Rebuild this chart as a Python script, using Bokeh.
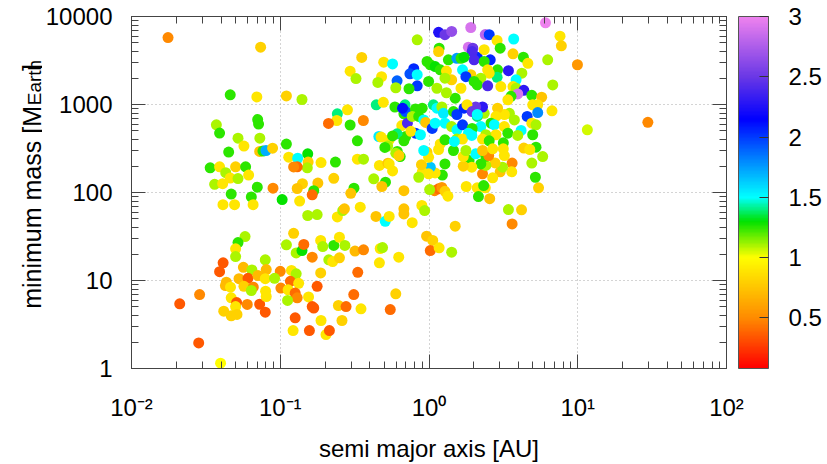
import math
from bokeh.plotting import figure
from bokeh.layouts import row
from bokeh.core.properties import value
from bokeh.models import (ColumnDataSource, LinearColorMapper, ColorBar, FixedTicker,
                          CustomJSTickFormatter, LogAxis, Range1d)
from bokeh.embed import file_html
from bokeh.resources import INLINE

# ---- data ----
semi_major_axis = [
    # short-period / left region
    0.0176, 0.0738, 0.0461, 0.0696, 0.110, 0.140, 0.0705, 0.0715, 0.0372, 0.0391,
    0.052, 0.0729, 0.057, 0.0450, 0.0727, 0.0765, 0.0802, 0.0888, 0.0338, 0.0391,
    0.0501, 0.0585, 0.0430, 0.0461, 0.052, 0.0613, 0.0362, 0.041, 0.0701, 0.0894,
    0.0468, 0.0639, 0.0412, 0.0493, 0.0657, 0.103,
    # left low-mass region
    0.058, 0.052, 0.0501, 0.0501, 0.0413, 0.0391, 0.0565, 0.0645, 0.0793, 0.0805,
    0.100, 0.0434, 0.0428, 0.0463, 0.0528, 0.0607, 0.0708, 0.0793, 0.0916, 0.057,
    0.0659, 0.0639, 0.101, 0.0287, 0.0211, 0.0468, 0.0509, 0.0501, 0.060, 0.0727,
    0.0797, 0.0805, 0.0793, 0.0417, 0.0468, 0.0512, 0.0283, 0.0397,
    # middle upper region
    0.353, 0.295, 0.323, 0.496, 0.569, 0.480, 0.453, 0.61, 0.598, 0.79,
    0.744, 0.833, 0.833, 0.734, 0.833, 0.283, 0.242, 0.240, 0.211, 0.295,
    0.362, 0.442, 0.493, 0.590, 0.69, 0.678, 0.656, 0.716, 0.697, 0.61,
    0.46, 0.476, 0.54, 0.527, 0.505, 0.612, 0.598, 0.64, 0.110, 0.114,
    0.131, 0.153, 0.154, 0.152, 0.130, 0.123, 0.188, 0.235, 0.33, 0.33,
    0.363, 0.464, 0.53, 0.569, 0.425, 0.51, 0.482, 0.678, 0.229, 0.179,
    0.141, 0.130, 0.168, 0.164, 0.313, 0.298, 0.135,
    # middle lower region
    0.153, 0.177, 0.242, 0.263, 0.27, 0.345, 0.44, 0.508, 0.54, 0.678,
    0.678, 0.771, 0.123, 0.110, 0.128, 0.140, 0.144, 0.164, 0.187, 0.193,
    0.229, 0.25, 0.272, 0.212, 0.225, 0.25, 0.318, 0.363, 0.47, 0.487,
    0.464, 0.626, 0.332, 0.187, 0.119, 0.128, 0.117, 0.133, 0.113, 0.126,
    0.130, 0.112, 0.155, 0.177, 0.164, 0.168, 0.126, 0.122, 0.157, 0.188,
    0.203, 0.214, 0.246, 0.26, 0.277, 0.312, 0.349, 0.549, 0.598,
    # giant-planet cluster, upper
    1.16, 1.28, 1.42, 1.91, 2.39, 2.54, 2.87, 3.71, 6.07, 7.6,
    7.76, 9.95, 1.17, 1.16, 1.84, 1.97, 2.11, 2.58, 2.35, 3.01,
    3.67, 4.31, 4.62, 6.28, 1.95, 2.01, 2.35, 2.89, 3.42, 4.21,
    3.85, 2.87, 2.48, 2.54, 2.23, 1.91, 2.11, 2.48, 3.04, 3.67,
    3.85, 4.34, 3.95, 4.91, 5.72, 6.79, 3.56, 3.39, 4.98, 5.38,
    4.57, 5.38, 6.71, 4.91, 5.24, 4.16, 4.98, 3.47, 3.21, 3.75,
    2.89, 2.82, 2.61, 2.35, 2.29, 2.06, 2.11, 2.23, 2.75, 3.21,
    3.39, 2.82, 2.41, 1.95, 0.97, 1.02, 1.10, 1.19, 1.35, 1.54,
    1.64, 1.72, 1.31, 1.42, 1.28, 1.68, 1.77, 2.01, 0.994, 1.13,
    1.64, 1.50, 1.31, 1.07, 1.13, 1.22, 1.25, 1.46, 1.54, 1.72,
    1.80, 1.95, 2.11, 0.697, 0.664, 0.811, 0.90, 0.771, 0.853, 0.922,
    0.95, 0.811, 0.755, 0.876, 1.05, 1.10, 1.28, 1.42, 1.54, 1.68,
    1.95, 1.84,
    # giant-planet cluster, lower
    0.678, 0.569, 0.628, 0.54, 1.16, 1.19, 1.28, 1.54, 1.68, 1.94,
    2.29, 2.54, 3.16, 3.95, 1.46, 1.48, 1.28, 1.23, 1.10, 1.02,
    0.994, 0.90, 0.853, 0.89, 0.97, 0.994, 0.922, 1.09, 1.16, 1.22,
    1.28, 1.34, 1.01, 1.78, 2.11, 2.39, 2.33, 2.15, 2.56, 5.45,
    5.19, 4.91, 5.81, 5.24, 4.34, 4.76, 3.62, 3.60, 3.01, 3.12,
    2.78, 2.68, 2.29, 2.41, 2.23, 1.86, 1.94, 1.70, 1.70, 2.06,
    2.41, 2.52, 2.29, 2.68, 3.16, 3.21, 1.77,
    # lower and outer points
    0.895, 0.935, 0.963, 1.06, 1.02, 1.17, 1.42, 1.50, 3.42, 4.19,
    3.62, 11.6, 29.6,
]

min_mass = [
    5770, 4480, 1290, 1220, 1250, 1140, 675, 600, 588, 473,
    414, 414, 337, 288, 293, 296, 300, 319, 191, 196,
    196, 196, 168, 146, 144, 158, 124, 126, 115, 112,
    96, 89, 72.7, 72.7, 72.7, 83,
    31.6, 27.0, 22.9, 18.7, 15.9, 12.6, 14.1, 13.2, 17.2, 13.3,
    12.7, 9.57, 8.76, 8.4, 10.5, 10.6, 11.4, 10.5, 10.6, 8.6,
    8.4, 7.7, 8.2, 6.93, 5.44, 6.36, 5.62, 5.06, 5.34, 5.37,
    7.56, 6.58, 4.36, 4.48, 3.97, 4.11, 1.95, 1.15,
    3430, 2390, 1970, 3030, 2890, 2070, 1780, 1860, 1550, 2550,
    2230, 1630, 2180, 1510, 5430, 871, 783, 658, 610, 585,
    658, 993, 1060, 937, 993, 783, 577, 613, 433, 464,
    433, 426, 397, 337, 325, 293, 280, 256, 355, 252,
    245, 275, 222, 191, 196, 195, 219, 222, 387, 239,
    239, 203, 215, 176, 143, 131, 117, 105, 145, 128,
    126, 111, 105, 94, 112, 98, 80,
    54.8, 56.1, 52.7, 62.4, 65.3, 68.1, 53.5, 47.1, 53.5, 65.3,
    57, 45.4, 34.4, 25.4, 20.6, 21.9, 25.7, 18.4, 28.5, 24.3,
    25, 31, 25, 17.2, 16.4, 18.1, 21.6, 22.3, 23.1, 23.7,
    15.9, 18.4, 12.4, 12.2, 13, 11.9, 9.8, 9.3, 7.84, 7.2,
    6.36, 5.93, 6.5, 8.6, 5.06, 4.87, 3.77, 2.7, 2.7, 3.51,
    2.43, 2.7, 5.2, 3.51, 5.06, 6.93, 4.77, 4.67, 7.06,
    6620, 6210, 6760, 7500, 6240, 6210, 5340, 5550, 8470, 5970,
    4650, 2830, 4360, 4000, 4480, 4360, 3450, 3220, 4200, 4360,
    3770, 3450, 2940, 3220, 4000, 3220, 3080, 2480, 2420, 2270,
    1910, 2040, 2480, 2270, 1990, 2180, 1670, 1630, 1600, 1600,
    1530, 1450, 1320, 1270, 1210, 1670, 1240, 1130, 993, 993,
    731, 810, 848, 613, 588, 507, 453, 795, 770, 667,
    908, 731, 613, 795, 937, 937, 731, 562, 588, 562,
    472, 453, 453, 516, 3080, 2830, 2700, 2480, 3220, 3350,
    3350, 3450, 2400, 1910, 1990, 2480, 2070, 1830, 1830, 1530,
    1530, 1180, 1360, 993, 908, 937, 795, 830, 770, 908,
    993, 830, 770, 830, 908, 890, 908, 731, 731, 667,
    625, 472, 495, 453, 535, 613, 613, 562, 516, 588,
    535, 472,
    387, 440, 263, 211, 308, 356, 397, 405, 405, 445,
    405, 387, 367, 445, 300, 380, 211, 158, 167, 194,
    163, 170, 149, 207, 287, 251, 300, 105, 110, 114,
    103, 90.8, 108, 117, 113, 113, 120, 90, 85, 113,
    149, 216, 256, 327, 320, 308, 216, 172, 172, 194,
    217, 147, 163, 203, 211, 231, 194, 199, 256, 275,
    258, 263, 300, 314, 314, 263, 300,
    71.3, 62.4, 31.9, 28.5, 21.9, 23.5, 21, 41.4, 64, 63.6,
    44, 516, 627,
]

stellar_mass = [
    0.5, 0.8, 1.25, 0.9, 0.8, 1.1, 1.25, 1.25, 1.1, 1.25,
    1.1, 1.1, 0.9, 1.25, 0.75, 1.25, 1.7, 0.8, 1.25, 0.9,
    0.8, 1.25, 1.1, 0.9, 1.1, 0.9, 1.1, 0.9, 1.25, 0.5,
    1.25, 1.25, 0.9, 0.9, 0.9, 1.3,
    1.1, 1.25, 0.9, 1.1, 0.35, 0.35, 0.7, 1.1, 1.1, 0.7,
    0.5, 0.7, 0.7, 0.9, 0.7, 0.35, 0.7, 0.9, 1.1, 0.8,
    0.5, 1.1, 0.5, 0.5, 0.35, 0.9, 0.35, 0.9, 0.5, 0.35,
    0.9, 0.9, 0.35, 0.8, 0.8, 0.8, 0.35, 1.0,
    0.8, 0.9, 1.1, 0.9, 1.5, 0.9, 1.1, 1.9, 1.1, 2.05,
    1.95, 2.0, 1.5, 1.25, 1.1, 0.9, 1.4, 0.9, 0.4, 1.25,
    0.5, 1.4, 0.9, 1.25, 1.4, 1.25, 0.9, 2.4, 1.25, 1.4,
    1.55, 0.9, 0.9, 1.1, 1.25, 1.25, 1.1, 1.25, 1.25, 0.9,
    1.5, 1.3, 0.8, 1.1, 0.4, 0.5, 0.9, 1.25, 1.25, 0.9,
    1.1, 0.9, 0.75, 0.9, 1.1, 1.25, 0.75, 0.75, 0.8, 0.75,
    0.8, 0.75, 1.25, 0.4, 1.25, 0.75, 0.9,
    1.1, 1.1, 0.9, 1.1, 0.75, 0.9, 0.75, 1.5, 0.9, 0.75,
    0.75, 0.9, 0.8, 1.1, 1.1, 1.3, 0.4, 0.5, 0.9, 1.1,
    1.25, 0.9, 1.1, 1.1, 0.9, 0.8, 0.7, 0.5, 0.9, 1.1,
    0.9, 0.9, 0.4, 0.8, 0.9, 1.1, 0.4, 0.9, 0.9, 0.4,
    0.5, 1.1, 0.9, 0.35, 0.35, 0.35, 0.35, 0.9, 0.35, 0.9,
    0.9, 0.35, 0.8, 0.8, 0.4, 0.4, 0.9, 0.4, 0.8,
    2.25, 2.5, 2.65, 2.9, 2.8, 2.0, 0.9, 1.5, 3.0, 0.9,
    0.8, 0.55, 1.25, 0.8, 2.9, 2.5, 2.05, 2.05, 0.9, 1.25,
    0.8, 1.25, 0.9, 1.1, 2.4, 2.4, 1.25, 1.25, 2.3, 1.1,
    1.5, 1.4, 0.9, 0.9, 1.1, 0.8, 1.25, 2.4, 0.9, 0.9,
    1.1, 2.3, 2.9, 1.25, 0.75, 1.1, 1.25, 0.9, 0.9, 0.9,
    2.0, 1.8, 0.9, 0.9, 1.1, 1.5, 1.25, 1.1, 0.9, 1.1,
    0.8, 0.9, 1.25, 1.1, 2.3, 2.5, 1.4, 1.5, 1.5, 0.9,
    1.25, 0.9, 1.1, 1.5, 1.25, 1.25, 1.3, 1.25, 1.25, 1.75,
    1.25, 1.3, 0.9, 0.8, 1.1, 1.5, 2.0, 1.25, 1.25, 1.1,
    0.9, 1.25, 1.1, 1.4, 1.5, 1.1, 1.55, 1.25, 2.0, 2.05,
    0.9, 2.5, 1.5, 1.95, 2.1, 1.25, 1.25, 1.1, 1.25, 1.5,
    0.75, 2.0, 0.9, 1.5, 2.0, 1.5, 1.5, 1.1, 1.5, 2.0,
    1.25, 1.5,
    1.25, 1.25, 0.8, 0.9, 0.9, 0.9, 1.25, 1.1, 0.9, 1.5,
    0.9, 1.25, 1.25, 1.1, 1.25, 1.5, 1.25, 1.25, 0.9, 1.65,
    0.9, 0.9, 1.1, 0.8, 0.8, 0.9, 1.5, 0.5, 0.4, 0.55,
    0.8, 0.9, 1.1, 0.9, 0.9, 0.9, 1.25, 1.25, 0.75, 0.8,
    1.25, 1.1, 1.1, 1.25, 0.8, 0.9, 0.5, 0.9, 0.75, 1.1,
    0.8, 0.9, 0.5, 1.1, 1.25, 1.25, 0.9, 0.8, 0.9, 1.5,
    1.25, 0.5, 0.75, 0.9, 0.9, 0.9, 1.1,
    0.9, 1.1, 0.75, 0.8, 0.4, 0.9, 1.1, 0.8, 1.1, 0.8,
    0.5, 1.05, 0.5,
]

x_ticks = [0.01, 0.1, 1, 10, 100]
y_ticks = [1, 10, 100, 1000, 10000]
cb_ticks = [0.5, 1, 1.5, 2, 2.5, 3]
cb_low, cb_high = 0.08, 3.0

x_title = "semi major axis [AU]"
y_title_main, y_title_sub, y_title_end = "minimum mass [M", "Earth", "]"

# ---- palette (red - orange - yellow - green - cyan - blue - purple - violet) ----
stops = [(0.08, (255, 0, 0)), (0.5, (255, 140, 0)), (1.0, (255, 255, 0)),
         (1.3, (0, 225, 0)), (1.5, (0, 255, 255)), (2.15, (0, 0, 255)),
         (2.5, (105, 55, 230)), (3.0, (238, 130, 238))]


def make_palette(n=256):
    cols = []
    for i in range(n):
        v = cb_low + (cb_high - cb_low) * i / (n - 1)
        for (v0, c0), (v1, c1) in zip(stops[:-1], stops[1:]):
            if v <= v1 + 1e-9:
                t = (v - v0) / (v1 - v0)
                break
        rgb = tuple(int(round(a + (b - a) * t)) for a, b in zip(c0, c1))
        cols.append("#%02x%02x%02x" % rgb)
    return cols


palette = make_palette()
mapper = LinearColorMapper(palette=palette, low=cb_low, high=cb_high)

src = ColumnDataSource(dict(a=semi_major_axis, m=min_mass, c=stellar_mass))

FONT = "Liberation Sans"
AXC = "#444444"
TITLE_W = 42

p = figure(width=827 - TITLE_W, height=464, x_axis_type="log", y_axis_type="log",
           x_range=Range1d(0.01, 100), y_range=Range1d(1, 10000),
           output_backend="svg", toolbar_location=None,
           min_border_left=130 - TITLE_W, min_border_right=101,
           min_border_top=16, min_border_bottom=96)
p.outline_line_color = AXC
p.background_fill_color = "white"
p.border_fill_color = "white"

x_minor = [k * 10.0 ** e for e in range(-2, 2) for k in range(2, 10)]
y_minor = [k * 10.0 ** e for e in range(0, 4) for k in range(2, 10)]

sup_js = r"""
const sup = {'-':'\u207B','0':'\u2070','1':'\u00B9','2':'\u00B2','3':'\u00B3',
             '4':'\u2074','5':'\u2075','6':'\u2076','7':'\u2077','8':'\u2078','9':'\u2079'};
const e = Math.round(Math.log10(tick)).toString();
return '10' + e.split('').map(c => sup[c]).join('');
"""


def style_axis(ax):
    ax.major_tick_in = 14
    ax.major_tick_out = 0
    ax.minor_tick_in = 7
    ax.minor_tick_out = 0
    ax.axis_line_color = AXC
    ax.major_tick_line_color = AXC
    ax.minor_tick_line_color = AXC
    ax.major_label_text_font = FONT
    ax.major_label_text_font_size = "24px"
    ax.major_label_text_color = "black"
    ax.axis_label_text_font = FONT
    ax.axis_label_text_font_size = "24px"
    ax.axis_label_text_font_style = "normal"
    ax.axis_label_text_color = "black"


xa = p.xaxis[0]
ya = p.yaxis[0]
xa.ticker = FixedTicker(ticks=x_ticks, minor_ticks=x_minor)
ya.ticker = FixedTicker(ticks=y_ticks, minor_ticks=y_minor)
xa.formatter = CustomJSTickFormatter(code=sup_js)
ya.formatter = CustomJSTickFormatter(code="return Math.round(tick).toString();")
style_axis(xa)
style_axis(ya)
xa.major_label_standoff = 25
ya.major_label_standoff = 19
xa.axis_label = x_title
xa.axis_label_standoff = 11
ya.axis_label = None

blank = CustomJSTickFormatter(code="return '';")
top_ax = LogAxis(ticker=FixedTicker(ticks=x_ticks, minor_ticks=x_minor), formatter=blank)
right_ax = LogAxis(ticker=FixedTicker(ticks=y_ticks, minor_ticks=y_minor), formatter=blank)
for ax in (top_ax, right_ax):
    style_axis(ax)
    ax.major_label_standoff = 0
p.add_layout(top_ax, "above")
p.add_layout(right_ax, "right")

p.xgrid.ticker = FixedTicker(ticks=x_ticks)
p.ygrid.ticker = FixedTicker(ticks=y_ticks)
for g in (p.xgrid, p.ygrid):
    g.grid_line_color = "#a8a8a8"
    g.grid_line_dash = "1 3"
    g.grid_line_width = 1

p.scatter(x="a", y="m", source=src, size=11, marker="circle",
          fill_color={"field": "c", "transform": mapper}, line_color=None)

cb = ColorBar(color_mapper=mapper, ticker=FixedTicker(ticks=cb_ticks),
              formatter=CustomJSTickFormatter(code="return String(tick);"),
              width=30, height=352, padding=0, margin=0, location=(12, 0),
              label_standoff=20, major_tick_in=9, major_tick_out=0,
              major_tick_line_color="#333333", minor_tick_line_color=None,
              major_label_text_font=FONT, major_label_text_font_size="24px",
              major_label_text_color="black",
              bar_line_color="#555555", border_line_color=None,
              background_fill_color=None)
p.add_layout(cb, "right")

# ---- narrow strip holding the rotated y-axis title (pixel-like coordinates, y down) ----
pt = figure(width=TITLE_W, height=464, x_range=Range1d(0, TITLE_W), y_range=Range1d(464, 0),
            output_backend="svg", toolbar_location=None,
            x_axis_location=None, y_axis_location=None,
            min_border=0, min_border_left=0, min_border_right=0,
            min_border_top=0, min_border_bottom=0)
pt.outline_line_color = None
pt.grid.visible = False
pt.background_fill_color = "white"
pt.border_fill_color = "white"

title_kw = dict(angle=math.pi / 2, text_baseline="alphabetic", text_color="black",
                text_font=value(FONT))
pt.text(x=[31], y=[118], text=[y_title_main], text_align="right",
        text_font_size=value("25px"), **title_kw)
pt.text(x=[34], y=[117], text=[y_title_sub], text_align="left",
        text_font_size=value("19px"), **title_kw)
pt.text(x=[31], y=[72], text=[y_title_end], text_align="left",
        text_font_size=value("25px"), **title_kw)

layout = row(pt, p, spacing=0)
open("out.html", "w").write(file_html(layout, INLINE))
